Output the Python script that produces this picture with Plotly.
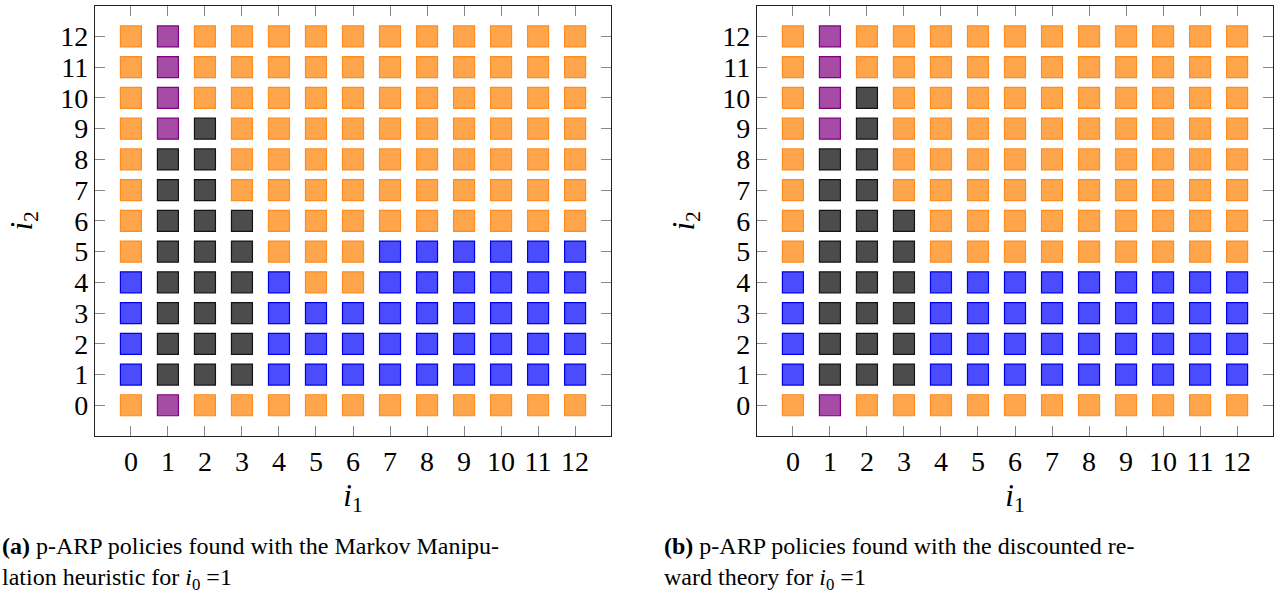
import plotly.graph_objects as go

# Grid values: rows listed from i2=0 (first) to i2=12 (last); columns i1=0..12
# O = orange, P = purple, K = dark gray, B = blue
grid_a = [
    "OPOOOOOOOOOOO",  # 0
    "BKKKBBBBBBBBB",  # 1
    "BKKKBBBBBBBBB",  # 2
    "BKKKBBBBBBBBB",  # 3
    "BKKKBOOBBBBBB",  # 4
    "OKKKOOOBBBBBB",  # 5
    "OKKKOOOOOOOOO",  # 6
    "OKKOOOOOOOOOO",  # 7
    "OKKOOOOOOOOOO",  # 8
    "OPKOOOOOOOOOO",  # 9
    "OPOOOOOOOOOOO",  # 10
    "OPOOOOOOOOOOO",  # 11
    "OPOOOOOOOOOOO",  # 12
]
grid_b = [
    "OPOOOOOOOOOOO",  # 0
    "BKKKBBBBBBBBB",  # 1
    "BKKKBBBBBBBBB",  # 2
    "BKKKBBBBBBBBB",  # 3
    "BKKKBBBBBBBBB",  # 4
    "OKKKOOOOOOOOO",  # 5
    "OKKKOOOOOOOOO",  # 6
    "OKKOOOOOOOOOO",  # 7
    "OKKOOOOOOOOOO",  # 8
    "OPKOOOOOOOOOO",  # 9
    "OPKOOOOOOOOOO",  # 10
    "OPOOOOOOOOOOO",  # 11
    "OPOOOOOOOOOOO",  # 12
]
tick_vals = list(range(13))
tick_labels = [str(v) for v in tick_vals]

styles = {
    "O": ("rgba(255,128,0,0.7)", "rgb(255,140,30)"),
    "P": ("rgba(128,0,128,0.7)", "rgb(128,0,128)"),
    "K": ("rgba(0,0,0,0.7)", "rgb(20,20,20)"),
    "B": ("rgba(0,0,255,0.7)", "rgb(0,0,230)"),
}

FONT = "'Liberation Serif', 'DejaVu Serif', serif"
fig = go.Figure()

def add_grid(grid, xa, ya):
    for code, (fill, line) in styles.items():
        xs, ys = [], []
        for yv, row in enumerate(grid):
            for xv, c in enumerate(row):
                if c == code:
                    xs.append(xv)
                    ys.append(yv)
        fig.add_trace(go.Scatter(
            x=xs, y=ys, mode="markers", xaxis=xa, yaxis=ya, showlegend=False,
            marker=dict(symbol="square", size=21, color=fill,
                        line=dict(color=line, width=1.2)),
            hoverinfo="skip"))

add_grid(grid_a, "x", "y")
add_grid(grid_b, "x2", "y2")

ydom = [1 - 436 / 593, 1 - 5.7 / 593]
axis_common = dict(
    tickmode="array", tickvals=tick_vals, ticktext=tick_labels,
    ticks="inside", ticklen=10, tickcolor="#888888", tickwidth=1.2,
    showline=True, linecolor="#222222", linewidth=1.3, mirror="allticks",
    showgrid=False, zeroline=False,
    tickfont=dict(family=FONT, size=28, color="black"),
)
title_font = dict(family=FONT, size=31, color="black")

fig.update_layout(
    width=1288, height=593,
    margin=dict(l=0, r=0, t=0, b=0),
    plot_bgcolor="white", paper_bgcolor="white",
    xaxis=dict(domain=[95 / 1288, 611 / 1288], range=[-0.97, 12.97],
               anchor="y", title=dict(text="<i>i</i><sub>1</sub>", font=title_font, standoff=8),
               **axis_common),
    yaxis=dict(domain=ydom, range=[-1, 13], anchor="x",
               title=dict(text="<i>i</i><sub>2</sub>", font=title_font, standoff=18),
               **axis_common),
    xaxis2=dict(domain=[757 / 1288, 1273 / 1288], range=[-0.97, 12.97],
                anchor="y2", title=dict(text="<i>i</i><sub>1</sub>", font=title_font, standoff=8),
                **axis_common),
    yaxis2=dict(domain=ydom, range=[-1, 13], anchor="x2",
                title=dict(text="<i>i</i><sub>2</sub>", font=title_font, standoff=18),
                **axis_common),
)

cap_font = dict(family=FONT, size=24, color="black")
fig.add_annotation(
    text="<b>(a)</b> p-ARP policies found with the Markov Manipu-<br>lation heuristic for <i>i</i><sub>0</sub> =1",
    xref="paper", yref="paper", x=0, y=1 - 531 / 593, xanchor="left", yanchor="top",
    align="left", showarrow=False, font=cap_font)
fig.add_annotation(
    text="<b>(b)</b> p-ARP policies found with the discounted re-<br>ward theory for <i>i</i><sub>0</sub> =1",
    xref="paper", yref="paper", x=662 / 1288, y=1 - 531 / 593, xanchor="left", yanchor="top",
    align="left", showarrow=False, font=cap_font)

fig.write_html("out.html")
